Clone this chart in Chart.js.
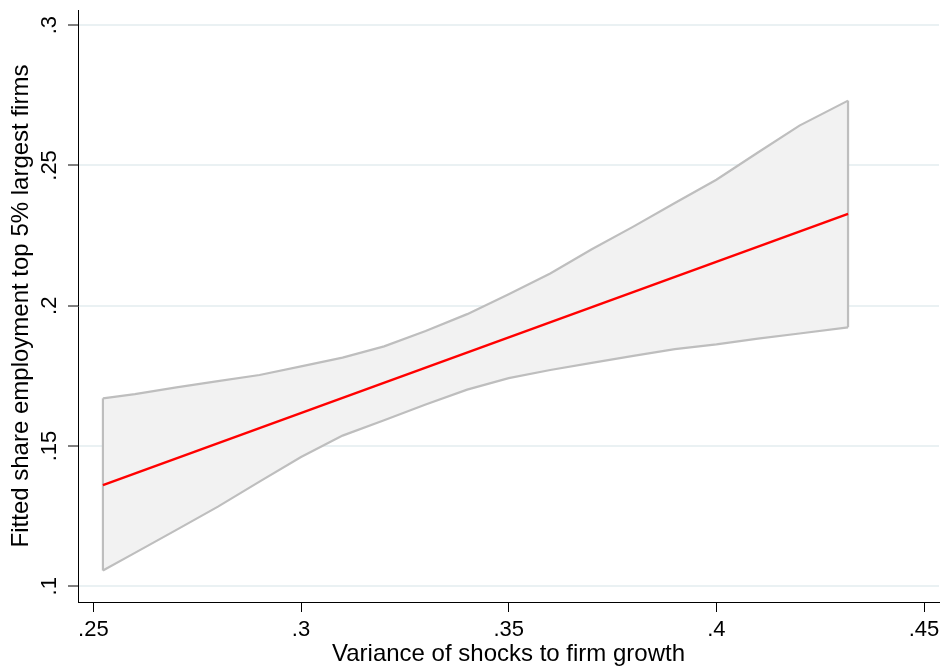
<!DOCTYPE html>
<html>
<head>
<meta charset="utf-8">
<title>Fitted share employment top 5% largest firms</title>
<script src="https://cdn.jsdelivr.net/npm/chart.js@4.4.1/dist/chart.umd.min.js"></script>
<style>
  html, body { margin: 0; padding: 0; background: #ffffff; }
  #wrap { width: 945px; height: 672px; }
</style>
</head>
<body>
<div id="wrap"><canvas id="chart" width="945" height="672"></canvas></div>
<script>
// Variance of shocks to firm growth (x) at which the confidence band is evaluated
const shockVariance = [0.2523, 0.26, 0.27, 0.28, 0.29, 0.30, 0.31, 0.32, 0.33, 0.34,
                       0.35, 0.36, 0.37, 0.38, 0.39, 0.40, 0.41, 0.42, 0.4317];
// Upper and lower bounds of the 95% confidence interval
const upperBound = [0.1670, 0.1685, 0.1709, 0.1731, 0.1753, 0.1784, 0.1815, 0.1855, 0.1910, 0.1970,
                    0.2041, 0.2115, 0.2201, 0.2282, 0.2366, 0.2449, 0.2546, 0.2642, 0.2731];
const lowerBound = [0.1056, 0.1119, 0.1201, 0.1284, 0.1373, 0.1461, 0.1537, 0.1592, 0.1648, 0.1701,
                    0.1742, 0.1771, 0.1796, 0.1821, 0.1845, 0.1862, 0.1883, 0.1901, 0.1923];
// Linear fit, end points
const fitX = [0.2523, 0.4317];
const fitY = [0.1361, 0.2327];

// Axis ticks and their labels
const xTicks = [0.25, 0.30, 0.35, 0.40, 0.45];
const xTickLabels = ['.25', '.3', '.35', '.4', '.45'];
const yTicks = [0.10, 0.15, 0.20, 0.25, 0.30];
const yTickLabels = ['.1', '.15', '.2', '.25', '.3'];

const xTitle = 'Variance of shocks to firm growth';
const yTitle = 'Fitted share employment top 5% largest firms';

const toPoints = (xs, ys) => xs.map((x, i) => ({ x: x, y: ys[i] }));
const first = 0, last = shockVariance.length - 1;

const bandColor = '#bebebe';
const FONT = '"Liberation Sans", Arial, Helvetica, sans-serif';

// Higher "order" is drawn further back: band fill, then band outline, then the fit line
const ctx = document.getElementById('chart').getContext('2d');
new Chart(ctx, {
  type: 'scatter',
  data: {
    datasets: [
      {
        label: 'Fitted values',
        data: toPoints(fitX, fitY),
        showLine: true,
        borderColor: '#ff0000',
        borderWidth: 2.4,
        pointRadius: 0,
        fill: false,
        order: 0
      },
      {
        label: '95% CI upper',
        data: toPoints(shockVariance, upperBound),
        showLine: true,
        borderColor: bandColor,
        borderWidth: 2.2,
        backgroundColor: '#f2f2f2',
        pointRadius: 0,
        fill: '+1',
        order: 3
      },
      {
        label: '95% CI lower',
        data: toPoints(shockVariance, lowerBound),
        showLine: true,
        borderColor: bandColor,
        borderWidth: 2.2,
        pointRadius: 0,
        fill: false,
        order: 2
      },
      {
        label: 'band left edge',
        data: [{ x: shockVariance[first], y: lowerBound[first] }, { x: shockVariance[first], y: upperBound[first] }],
        showLine: true,
        borderColor: bandColor,
        borderWidth: 2.2,
        pointRadius: 0,
        fill: false,
        order: 1
      },
      {
        label: 'band right edge',
        data: [{ x: shockVariance[last], y: lowerBound[last] }, { x: shockVariance[last], y: upperBound[last] }],
        showLine: true,
        borderColor: bandColor,
        borderWidth: 2.2,
        pointRadius: 0,
        fill: false,
        order: 1
      }
    ]
  },
  options: {
    responsive: false,
    animation: false,
    devicePixelRatio: 1,
    layout: { padding: { top: 10, right: 6, left: 0, bottom: 0 } },
    plugins: {
      legend: { display: false },
      tooltip: { enabled: false }
    },
    scales: {
      x: {
        type: 'linear',
        min: 0.2463,
        max: 0.4536,
        afterBuildTicks: (scale) => { scale.ticks = xTicks.map(v => ({ value: v })); },
        afterFit: (scale) => {
          scale.height = 70;
          scale.paddingLeft = 0;
          scale.paddingRight = 0;
        },
        ticks: {
          autoSkip: false,
          maxRotation: 0,
          minRotation: 0,
          padding: 5,
          color: '#000',
          font: { family: FONT, size: 22 },
          callback: (v) => xTickLabels[xTicks.indexOf(v)]
        },
        grid: {
          drawOnChartArea: false,
          drawTicks: true,
          tickLength: 10,
          tickColor: '#000',
          tickWidth: 1
        },
        border: { display: true, color: '#000', width: 1 },
        title: {
          display: true,
          text: xTitle,
          color: '#000',
          font: { family: FONT, size: 24 },
          padding: { top: 0, bottom: 3 }
        }
      },
      y: {
        type: 'linear',
        min: 0.0944,
        max: 0.3054,
        afterBuildTicks: (scale) => { scale.ticks = yTicks.map(v => ({ value: v })); },
        afterFit: (scale) => {
          scale.width = 78;
          scale.paddingTop = 0;
          scale.paddingBottom = 0;
        },
        ticks: {
          autoSkip: false,
          minRotation: 90,
          maxRotation: 90,
          crossAlign: 'center',
          padding: 3,
          color: '#000',
          font: { family: FONT, size: 22 },
          callback: (v) => yTickLabels[yTicks.indexOf(v)]
        },
        grid: {
          drawOnChartArea: true,
          color: '#eaf1f3',
          lineWidth: 2,
          drawTicks: true,
          tickLength: 10,
          tickColor: '#000',
          tickWidth: 1
        },
        border: { display: true, color: '#000', width: 1 },
        title: {
          display: true,
          text: yTitle,
          color: '#000',
          font: { family: FONT, size: 24 },
          padding: { top: 7, bottom: 0 }
        }
      }
    }
  }
});
</script>
</body>
</html>
